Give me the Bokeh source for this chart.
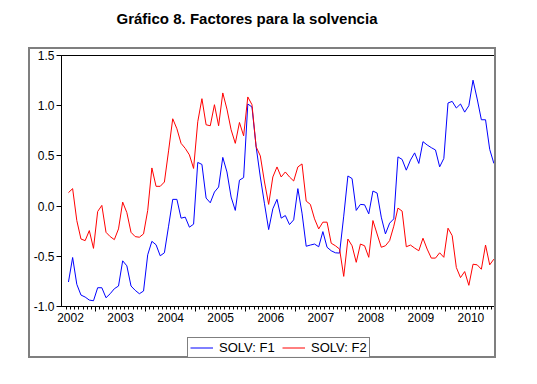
from bokeh.plotting import figure
from bokeh.models import (Range1d, FixedTicker, LinearAxis, Legend, LegendItem,
                          Div, NumeralTickFormatter, Styles)
from bokeh.layouts import column
from bokeh.embed import file_html
from bokeh.resources import INLINE

# ---- data (monthly, 2002M06 .. 2010M12) ----
start_year = 2002
start_month = 6
solv_f1 = [-0.756, -0.512, -0.779, -0.886, -0.906, -0.936, -0.943, -0.813, -0.813, -0.913,
           -0.873, -0.823, -0.796, -0.545, -0.595, -0.796, -0.839, -0.873, -0.846, -0.485,
           -0.351, -0.385, -0.495, -0.465, -0.200, 0.067, 0.067, -0.120, -0.110, -0.210,
           -0.180, 0.435, 0.415, 0.080, 0.033, 0.140, 0.190, 0.485, 0.340, 0.090,
           -0.043, 0.258, 0.284, 1.017, 0.987, 0.590, 0.290, 0.023, -0.234, -0.027,
           0.067, -0.120, -0.094, -0.184, -0.137, 0.174, -0.070, -0.400, -0.388, -0.378,
           -0.405, -0.254, -0.410, -0.445, -0.465, -0.468, -0.100, 0.300, 0.274, -0.043,
           0.017, 0.013, -0.077, 0.150, 0.130, -0.110, -0.277, -0.170, -0.127, 0.490,
           0.465, 0.358, 0.458, 0.530, 0.425, 0.642, 0.609, 0.582, 0.559, 0.391,
           0.475, 1.027, 1.043, 0.977, 1.017, 0.936, 1.000, 1.254, 1.067, 0.860,
           0.860, 0.565, 0.425]
solv_f2 = [0.134, 0.174, -0.144, -0.328, -0.344, -0.244, -0.421, -0.054, 0.007, -0.261,
           -0.304, -0.334, -0.227, 0.040, -0.065, -0.261, -0.304, -0.310, -0.277, -0.043,
           0.380, 0.197, 0.197, 0.240, 0.550, 0.870, 0.770, 0.625, 0.575, 0.510,
           0.375, 0.840, 1.070, 0.810, 0.800, 1.010, 0.800, 1.127, 0.966, 0.760,
           0.625, 0.833, 0.700, 1.087, 1.010, 0.590, 0.500, 0.240, 0.017, 0.290,
           0.390, 0.290, 0.340, 0.290, 0.250, 0.390, 0.420, 0.050, 0.017, -0.127,
           -0.227, -0.160, -0.160, -0.370, -0.395, -0.428, -0.700, -0.328, -0.395, -0.560,
           -0.378, -0.395, -0.510, -0.144, -0.278, -0.410, -0.395, -0.344, -0.200, -0.020,
           -0.050, -0.405, -0.388, -0.418, -0.445, -0.320, -0.428, -0.518, -0.518, -0.465,
           -0.510, -0.220, -0.294, -0.612, -0.712, -0.652, -0.789, -0.579, -0.585, -0.629,
           -0.388, -0.585, -0.528]
year_labels = [2002, 2003, 2004, 2005, 2006, 2007, 2008, 2009, 2010]
y_ticks = [-1.0, -0.5, 0.0, 0.5, 1.0, 1.5]
series_names = ["SOLV: F1", "SOLV: F2"]
series_colors = ["#0000ff", "#ff0000"]
title_text = "Gráfico 8. Factores para la solvencia"

# time axis: observation at year + (month-1)/12
n = len(solv_f1)
t = [start_year + (start_month - 1 + i) / 12.0 for i in range(n)]
year_bounds = [y - 1 / 24.0 for y in year_labels] + [year_labels[-1] + 1 - 1 / 24.0]
month_bounds = [t[0] - 1 / 24.0 + k / 12.0 for k in range(n + 1)]
label_pos = [y + 11 / 24.0 for y in year_labels]

FONT = "Liberation Sans"
GRAY = "2px solid #7f7f7f"

p = figure(width=468, height=282, output_backend="svg", toolbar_location=None,
           x_range=Range1d(2002.2775, 2010.989), y_range=Range1d(-1.0, 1.5),
           min_border_left=29, min_border_right=1, min_border_top=6, min_border_bottom=25,
           background_fill_color="white", border_fill_color="white")
p.outline_line_color = "black"
p.xgrid.visible = False
p.ygrid.visible = False
p.margin = (0, 0, 0, 28)
p.styles = Styles(border_top=GRAY, border_left=GRAY, border_right=GRAY)

p.line(t, solv_f1, line_color=series_colors[0], line_width=1)
p.line(t, solv_f2, line_color=series_colors[1], line_width=1)

# y axis
ya = p.yaxis[0]
ya.ticker = FixedTicker(ticks=y_ticks)
ya.formatter = NumeralTickFormatter(format="0.0")
ya.major_tick_out = 5
ya.major_tick_in = 0
ya.minor_tick_line_color = None
ya.major_label_standoff = 2
ya.major_label_text_font = FONT
ya.major_label_text_font_size = "12px"
ya.major_label_text_color = "black"
ya.axis_line_color = "black"
ya.major_tick_line_color = "black"

# x axis: ticks only
xa = p.xaxis[0]
xa.ticker = FixedTicker(ticks=year_bounds, minor_ticks=month_bounds)
xa.major_tick_out = 5
xa.major_tick_in = 0
xa.minor_tick_out = 3
xa.minor_tick_in = 0
xa.major_label_text_font_size = "1px"
xa.major_label_text_color = None
xa.major_label_standoff = 0
xa.axis_line_color = "black"
xa.major_tick_line_color = "black"
xa.minor_tick_line_color = "black"

# x axis: year labels centred in each year
xl = LinearAxis(ticker=FixedTicker(ticks=label_pos, minor_ticks=[]),
                formatter=NumeralTickFormatter(format="0"))
xl.axis_line_color = None
xl.major_tick_line_color = None
xl.minor_tick_line_color = None
xl.major_tick_out = 0
xl.major_tick_in = 0
xl.major_label_standoff = 1
xl.major_label_text_font = FONT
xl.major_label_text_font_size = "12px"
xl.major_label_text_color = "black"
p.add_layout(xl, "below")

# frame lines on top and right
for side in ("above", "right"):
    ax = LinearAxis(ticker=FixedTicker(ticks=[], minor_ticks=[]))
    ax.axis_line_color = "black"
    ax.major_tick_line_color = None
    ax.minor_tick_line_color = None
    ax.major_label_text_font_size = "1px"
    ax.major_label_text_color = None
    ax.major_label_standoff = 0
    p.add_layout(ax, side)

# legend strip (same series drawn outside its visible range; only the key shows)
pl = figure(width=468, height=29, output_backend="svg", toolbar_location=None,
            x_range=Range1d(0, 1), y_range=Range1d(5, 6),
            x_axis_location=None, y_axis_location=None,
            min_border=0, min_border_left=0, min_border_right=0,
            min_border_top=0, min_border_bottom=0,
            background_fill_color="white", border_fill_color="white")
pl.outline_line_color = None
pl.xgrid.visible = False
pl.ygrid.visible = False
pl.margin = (0, 0, 0, 28)
pl.styles = Styles(border_bottom=GRAY, border_left=GRAY, border_right=GRAY)
l1 = pl.line(t, solv_f1, line_color=series_colors[0], line_width=1)
l2 = pl.line(t, solv_f2, line_color=series_colors[1], line_width=1)
legend = Legend(items=[LegendItem(label=series_names[0], renderers=[l1]),
                       LegendItem(label=series_names[1], renderers=[l2])],
                orientation="horizontal", location=(126, 0),
                border_line_color="black", border_line_width=1,
                padding=2, spacing=7, glyph_width=23, glyph_height=7,
                label_height=7, label_width=56, label_standoff=6, margin=0,
                label_text_font=FONT, label_text_font_size="13px",
                label_text_color="black", background_fill_color="white")
pl.add_layout(legend, "center")

title = Div(text='<div style="width:494px;padding-top:10px;text-align:center;'
                 'font-family:\'Liberation Sans\',Arial,sans-serif;font-weight:bold;'
                 'font-size:15px;line-height:17px;color:black;">' + title_text + '</div>',
            width=537, height=47, margin=(0, 0, 0, 0))

layout = column(title, p, pl, spacing=0)
open("out.html", "w").write(file_html(layout, INLINE))
